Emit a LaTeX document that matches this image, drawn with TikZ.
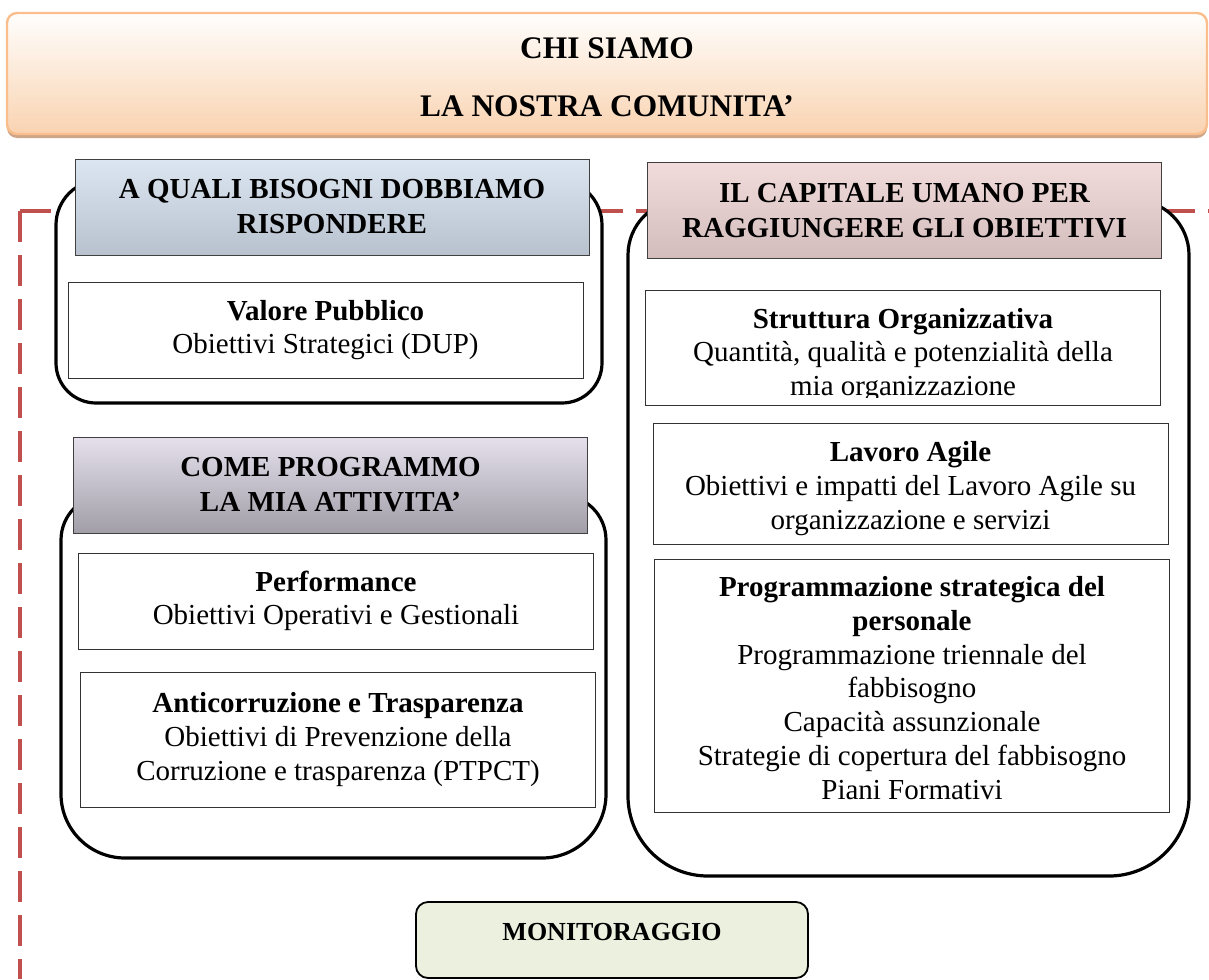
\documentclass[tikz,border=0pt]{standalone}
\usepackage{fontspec}
\setmainfont{Liberation Serif}
\usetikzlibrary{shapes,shadows}
\definecolor{dashred}{HTML}{C0504D}
\definecolor{needtop}{HTML}{DCE6F1}
\definecolor{needbot}{HTML}{B8C2CF}
\definecolor{plantop}{HTML}{E5E0EC}
\definecolor{planbot}{HTML}{A19EA8}
\definecolor{stafftop}{HTML}{F2DCDB}
\definecolor{staffbot}{HTML}{D3BCBC}
\definecolor{bannertop}{HTML}{FFFEFD}
\definecolor{bannerbot}{HTML}{F9D3B1}
\definecolor{bannerline}{HTML}{F9BE8C}
\definecolor{bannershade}{HTML}{CFA588}
\definecolor{monfill}{HTML}{EBF1DE}

\begin{document}
\begin{tikzpicture}[x=0.5pt, y=-0.5pt]
      \tikzstyle{every node}=[font=\fontsize{14.5}{16.8}\selectfont, align=center, inner sep=0pt]
      \tikzstyle{frame}=[draw=black, line width=1.6pt, fill=white]
      \tikzstyle{hdr}=[draw=black!75, line width=0.5pt, minimum width=257pt, minimum height=48pt, font=\fontsize{14.5}{17.5}\selectfont\bfseries]
      \tikzstyle{item}=[draw=black!80, line width=0.5pt, fill=white, minimum width=257.5pt]
      \tikzstyle{border}=[dashred, line width=2pt, dash pattern=on 15.5pt off 6.5pt]
      \useasboundingbox (0,0) rectangle (1209,979);
      %%
  \draw [border] (20,211) -- (20,979);
  \draw [border] (20,211) -- (1209,211);
  %% frames
  \draw [frame] (330,180) [rounded corners=22.5pt] -- (602,180) -- (602,290) [rounded corners=20pt] -- (602,403) -- (56,403) -- (56,290) [rounded corners=22.5pt] -- (56,180) -- cycle;
  \draw [frame] (330,495) [rounded corners=22.5pt] -- (606,495) -- (606,676) [rounded corners=32pt] -- (606,858) -- (61,858) -- (61,676) [rounded corners=22.5pt] -- (61,495) -- cycle;
  \draw [frame] (905,200) [rounded corners=27.5pt] -- (1189,200) -- (1189,540) [rounded corners=40pt] -- (1189,876) -- (628,876) -- (628,540) [rounded corners=27.5pt] -- (628,200) -- cycle;
  %% headers
  \node (hdr_need) at (332,207) [hdr, top color=needtop, bottom color=needbot] {A QUALI BISOGNI DOBBIAMO\\RISPONDERE};
  \node (hdr_plan) at (330.5,485) [hdr, top color=plantop, bottom color=planbot] {COME PROGRAMMO\\LA MIA ATTIVITA’};
  \node (hdr_staff) at (904.5,210.5) [hdr, top color=stafftop, bottom color=staffbot] {IL CAPITALE UMANO PER\\RAGGIUNGERE GLI OBIETTIVI};
  %% boxes
  \node (box_value) at (325.5,330) [item, minimum height=48pt] {\textbf{Valore Pubblico}\\Obiettivi Strategici (DUP)};
  \node (box_perf) at (336,601) [item, minimum height=48pt] {\textbf{Performance}\\Obiettivi Operativi e Gestionali};
  \node (box_anti) at (338,739.5) [item, minimum height=67.5pt] {\textbf{Anticorruzione e Trasparenza}\\Obiettivi di Prevenzione della\\Corruzione e trasparenza (PTPCT)};
  \node (box_org) at (903,347.5) [item, minimum height=57.5pt] {};
  \begin{scope}
    \clip (box_org.north west) rectangle ([yshift=4pt]box_org.south east);
    \node (txt_org) at (903,355) {\textbf{Struttura Organizzativa}\\Quantità, qualità e potenzialità della\\mia organizzazione};
  \end{scope}
  \node (box_agile) at (910.5,483.5) [item, minimum height=60.5pt] {};
  \node (txt_agile) at (910.5,488.5) {\textbf{Lavoro Agile}\\Obiettivi e impatti del Lavoro Agile su\\organizzazione e servizi};
  \node (box_prog) at (912,685.5) [item, minimum height=126.5pt] {};
  \node (txt_prog) at (912,688) [font=\fontsize{14.5}{16.9}\selectfont] {\textbf{Programmazione strategica del}\\\textbf{personale}\\Programmazione triennale del\\fabbisogno\\Capacità assunzionale\\Strategie di copertura del fabbisogno\\Piani Formativi};
  %% banner
  \node (banner) at (607,73.5) [draw=bannerline, line width=1.2pt, top color=bannertop, bottom color=bannerbot, rounded corners=5pt, minimum width=600pt, minimum height=60.5pt, drop shadow={shadow xshift=0pt, shadow yshift=-2pt, fill=bannershade, opacity=1}] {};
  \node (banner_txt) at (607,77) [font=\fontsize{15.7}{29}\selectfont\bfseries] {CHI SIAMO\\LA NOSTRA COMUNITA’};
  %% monitoring
  \node (mon_box) at (612,940) [draw=black, line width=0.9pt, fill=monfill, rounded corners=6pt, minimum width=196pt, minimum height=38pt] {};
  \node (mon_lbl) at (612,932) [font=\fontsize{13}{15}\selectfont\bfseries] {MONITORAGGIO};
%
\end{tikzpicture}
\end{document}
